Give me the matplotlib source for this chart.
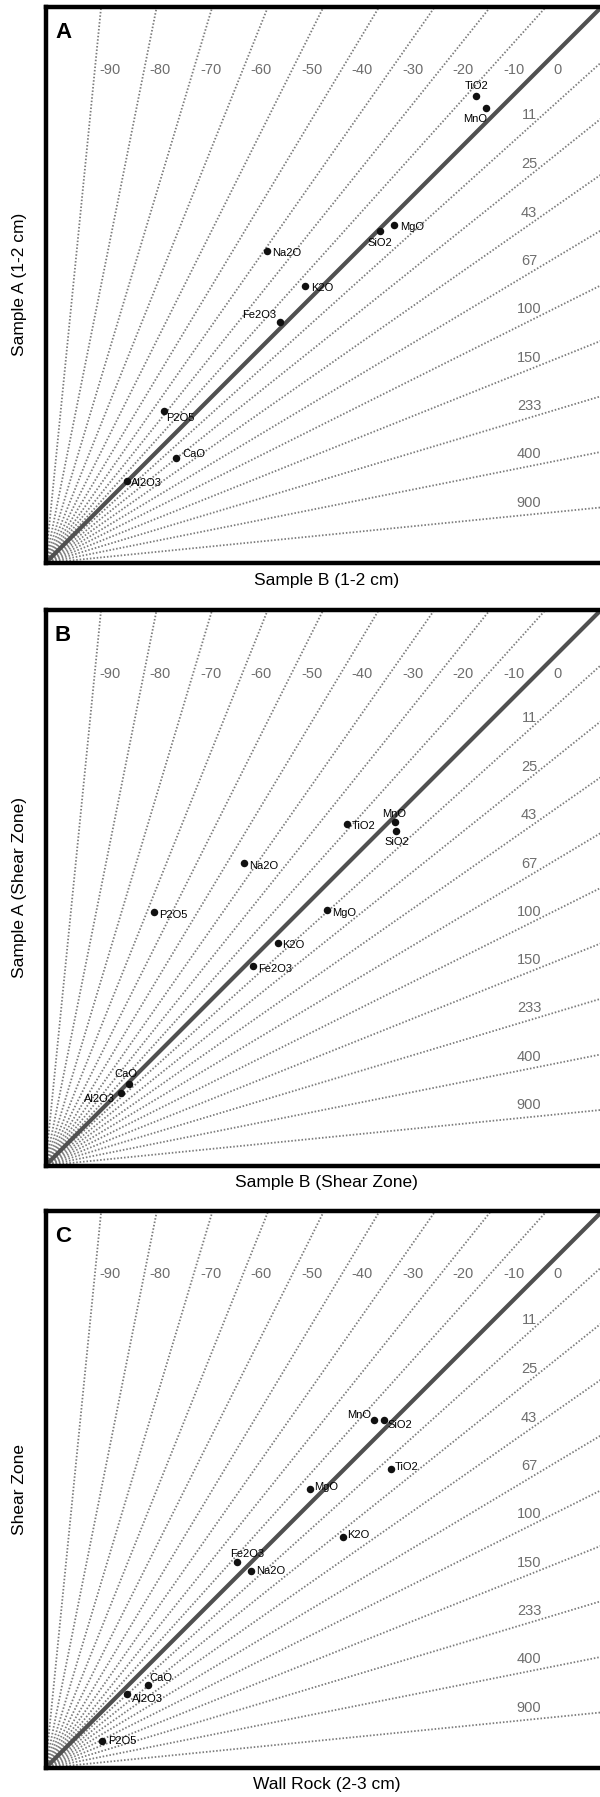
import matplotlib
matplotlib.use("Agg")
import matplotlib.pyplot as plt
import numpy as np

plt.rcParams['font.family'] = ['Liberation Sans', 'DejaVu Sans']

# ---------------- data ----------------
oxides_A = ["TiO2", "MnO", "MgO", "SiO2", "Na2O", "K2O", "Fe2O3", "P2O5", "CaO", "Al2O3"]
xA = [77.4, 79.2, 62.6, 60.1, 39.8, 46.6, 42.1, 21.3, 23.4, 14.6]
yA = [83.9, 81.8, 60.7, 59.7, 56.1, 49.8, 43.3, 27.3, 18.9, 14.7]

oxides_B = ["MnO", "SiO2", "TiO2", "Na2O", "P2O5", "MgO", "K2O", "Fe2O3", "CaO", "Al2O3"]
xB = [63.0, 63.1, 54.2, 35.7, 19.6, 50.7, 41.8, 37.4, 15.1, 13.6]
yB = [61.8, 60.3, 61.4, 54.5, 45.6, 46.0, 40.1, 36.0, 14.6, 13.0]

oxides_C = ["MnO", "SiO2", "TiO2", "MgO", "K2O", "Fe2O3", "Na2O", "CaO", "Al2O3", "P2O5"]
xC = [58.9, 60.8, 61.9, 47.4, 53.4, 34.4, 36.9, 18.4, 14.7, 10.2]
yC = [62.4, 62.4, 53.6, 50.1, 41.5, 37.0, 35.3, 14.9, 13.3, 4.9]

# percent-change rays
loss_pct = [-90, -80, -70, -60, -50, -40, -30, -20, -10, 0]
gain_pct = [11, 25, 43, 67, 100, 150, 233, 400, 900]
isocon_slope = [1.0, 1.0, 1.0]

panel_letters = ["A", "B", "C"]
xlabels = ["Sample B (1-2 cm)", "Sample B (Shear Zone)", "Wall Rock (2-3 cm)"]
ylabels = ["Sample A (1-2 cm)", "Sample A (Shear Zone)", "Shear Zone"]

# label placement (dx px, dy px downwards, ha)
lab_A = [(0, -10, 'center'), (-11.5, 11, 'center'), (6, 1.5, 'left'), (0, 12, 'center'),
         (5.5, 2, 'left'), (6, 2, 'left'), (-4, -7, 'right'), (2.5, 7, 'left'),
         (7, -4, 'left'), (4, 2, 'left')]
lab_B = [(-1.5, -8.5, 'center'), (0.5, 11, 'center'), (5.5, 2, 'left'), (5, 3, 'left'),
         (5, 2.5, 'left'), (4.6, 2.7, 'left'), (4.6, 2.4, 'left'), (4.6, 3, 'left'),
         (-4, -10, 'center'), (-6, 5.5, 'right')]
lab_C = [(-3, -5, 'right'), (3, 5, 'left'), (4, -2, 'left'), (4.6, -2, 'left'),
         (4, -2, 'left'), (10, -8, 'center'), (4.6, 0, 'left'), (1.5, -7, 'left'),
         (4.6, 5, 'left'), (6, 0, 'left')]

panels = [(oxides_A, xA, yA, lab_A), (oxides_B, xB, yB, lab_B), (oxides_C, xC, yC, lab_C)]

# ---------------- layout (pixels) ----------------
W, Hfig = 600, 1797
left_px, right_px = 45.5, 607.5
tops = [6.5, 610.0, 1210.5]
bottoms = [563.0, 1165.5, 1768.0]

fig = plt.figure(figsize=(W / 100, Hfig / 100), dpi=100)

ray_color = '#7c7c7c'
lab_color = '#6e6e6e'
ray_style = (0, (0.85, 1.05))

for i, (names, xs, ys, labs) in enumerate(panels):
    top, bot = tops[i], bottoms[i]
    hpx = bot - top
    wpx = right_px - left_px
    ax = fig.add_axes([left_px / W, (Hfig - bot) / Hfig, wpx / W, hpx / Hfig])
    xmax = 100 * wpx / hpx
    ax.set_xlim(0, xmax)
    ax.set_ylim(0, 100)
    ppu = hpx / 100.0  # pixels per data unit

    # rays
    X = 300
    for p in loss_pct:
        m = 1.0 / (1 + p / 100.0)
        ax.plot([0, X], [0, m * X], color=ray_color, lw=1.3,
                linestyle=ray_style, zorder=1)
    for q in gain_pct:
        s = 1.0 / (1 + q / 100.0)
        ax.plot([0, X], [0, s * X], color=ray_color, lw=1.3,
                linestyle=ray_style, zorder=1)

    # ray labels (top)
    ylab = 1 - 64.0 / hpx
    for p in loss_pct:
        xl = (553.5 + 5.05 * p - left_px) / wpx
        ax.text(xl, ylab, f"{p}", transform=ax.transAxes, ha='left', va='center',
                fontsize=10.5, color=lab_color, zorder=3)
    # ray labels (right)
    xr = (529 - left_px) / ppu
    for q in gain_pct:
        s = 1.0 / (1 + q / 100.0)
        ax.text(xr, s * xr + 12 / ppu, f"{q}", ha='center', va='center',
                fontsize=10.5, color=lab_color, zorder=3)

    # isocon
    ax.plot([0, X], [0, isocon_slope[i] * X], color='#505050', lw=3.0,
            solid_capstyle='butt', zorder=2)

    # points
    ax.plot(xs, ys, 'o', color='#111111', ms=5.4, mec='none', zorder=4)
    for n, x, y, (dx, dy, ha) in zip(names, xs, ys, labs):
        ax.annotate(n, (x, y), xytext=(dx * 0.72, -dy * 0.72), textcoords='offset points',
                    ha=ha, va='center', fontsize=8, color='black', zorder=5)

    # panel letter
    ax.text(9.5 / wpx, 1 - 31.0 / hpx, panel_letters[i], transform=ax.transAxes,
            ha='left', va='baseline', fontsize=16, fontweight='bold')

    for sp in ax.spines.values():
        sp.set_linewidth(3.2)
        sp.set_color('black')
    ax.set_xticks([])
    ax.set_yticks([])
    ax.set_xlabel(xlabels[i], fontsize=12.5)
    ax.xaxis.set_label_coords((326.5 - left_px) / wpx, -9.5 / hpx)
    ax.set_ylabel(ylabels[i], fontsize=12.5)
    ax.yaxis.set_label_coords(-18.0 / wpx, 0.5)

fig.savefig("out.png", dpi=100)
